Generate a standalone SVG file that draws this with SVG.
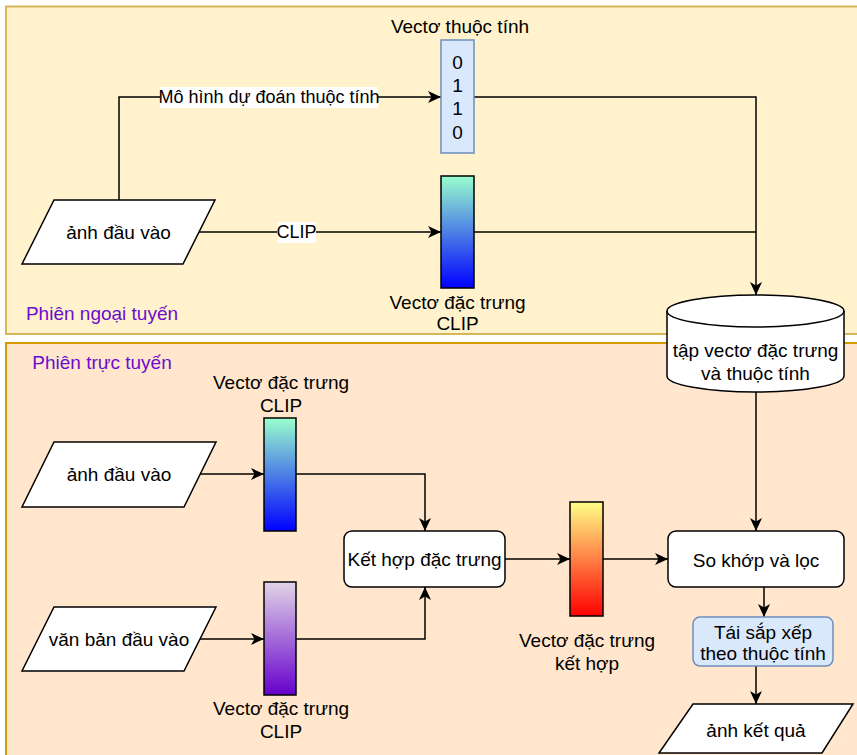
<svg xmlns="http://www.w3.org/2000/svg" width="857" height="755" viewBox="0 0 857 755">
<defs>
<linearGradient id="gBlue" x1="0" y1="0" x2="0" y2="1"><stop offset="0" stop-color="#99ffcc"/><stop offset="1" stop-color="#0000ff"/></linearGradient>
<linearGradient id="gPurple" x1="0" y1="0" x2="0" y2="1"><stop offset="0" stop-color="#e1d5e7"/><stop offset="1" stop-color="#6600cc"/></linearGradient>
<linearGradient id="gRed" x1="0" y1="0" x2="0" y2="1"><stop offset="0" stop-color="#ffff88"/><stop offset="1" stop-color="#ff0000"/></linearGradient>
<marker id="arr" markerUnits="userSpaceOnUse" markerWidth="14" markerHeight="12" refX="13" refY="6" orient="auto" overflow="visible">
<path d="M0,0 L13,6 L0,12 L3.5,6 Z" fill="#000"/>
</marker>
<style>
text{font-family:"Liberation Sans",Arial,Helvetica,sans-serif;font-size:19px;fill:#000;text-anchor:middle;dominant-baseline:central}
.lbl{font-size:18px}
.ph{fill:#6a0dd0}
.shape{fill:#fff;stroke:#000;stroke-width:1.5}
.vec{stroke:#000;stroke-width:1.5}
.blue{fill:#dae8fc;stroke:#6c8ebf;stroke-width:1.5}
.edge{fill:none;stroke:#000;stroke-width:1.5}
.arrow{marker-end:url(#arr)}
</style>
</defs>

<g id="panel-offline">
<rect x="6" y="6.5" width="860" height="327.5" fill="#fff2cc" stroke="#d6b656" stroke-width="2"/>
<text class="ph" x="102" y="313">Phiên ngoại tuyến</text>
</g>
<g id="panel-online">
<rect x="6" y="343" width="860" height="420" fill="#ffe6cc" stroke="#d79b00" stroke-width="2"/>
<text class="ph" x="102" y="362">Phiên trực tuyến</text>
</g>

<g id="connectors">
<path class="edge arrow" d="M119,200 V97 H441"/>
<path class="edge arrow" d="M199,232 H441"/>
<path class="edge arrow" d="M474,97 H756 V295"/>
<path class="edge" d="M474,232 H756"/>
<path class="edge arrow" d="M756,392 V531"/>
<path class="edge arrow" d="M200,474 H264"/>
<path class="edge arrow" d="M296,474 H425 V531"/>
<path class="edge arrow" d="M200,639 H264"/>
<path class="edge arrow" d="M296,639 H425 V587"/>
<path class="edge arrow" d="M505,559 H570"/>
<path class="edge arrow" d="M603,559 H668"/>
<path class="edge arrow" d="M764,587 V617"/>
<path class="edge arrow" d="M756,666 V704"/>
<g id="edge-labels">
<rect x="160" y="87" width="218" height="21" fill="#fff"/>
<text class="lbl" x="269" y="97">Mô hình dự đoán thuộc tính</text>
<rect x="277" y="222" width="39" height="21" fill="#fff"/>
<text class="lbl" x="296.5" y="232">CLIP</text>
</g>
</g>

<g id="input-image-offline">
<polygon class="shape" points="54,200 215,200 183,264 22,264"/>
<text x="118.5" y="232">ảnh đầu vào</text>
</g>

<g id="attr-vector">
<text x="460" y="26">Vectơ thuộc tính</text>
<rect class="blue" x="441" y="40" width="33" height="113"/>
<text x="457.5" y="62">0</text>
<text x="457.5" y="85">1</text>
<text x="457.5" y="108">1</text>
<text x="457.5" y="132">0</text>
</g>

<g id="clip-vector-offline">
<rect class="vec" x="441" y="176" width="33" height="112" fill="url(#gBlue)"/>
<text x="457.5" y="302">Vectơ đặc trưng</text>
<text x="457.5" y="323">CLIP</text>
</g>

<g id="database">
<path class="shape" d="M667,311 A88.5,16 0 0 1 844,311 V376 A88.5,16 0 0 1 667,376 Z"/>
<path class="edge" d="M667,311 A88.5,16 0 0 0 844,311"/>
<text x="755.5" y="350">tập vectơ đặc trưng</text>
<text x="755.5" y="373">và thuộc tính</text>
</g>

<g id="input-image-online">
<polygon class="shape" points="54,442 216,442 184,507 22,507"/>
<text x="119" y="474.5">ảnh đầu vào</text>
</g>

<g id="input-text">
<polygon class="shape" points="54,607 216,607 184,671 22,671"/>
<text x="119" y="639">văn bản đầu vào</text>
</g>

<g id="clip-vector-image">
<text x="281" y="382">Vectơ đặc trưng</text>
<text x="281" y="405">CLIP</text>
<rect class="vec" x="264" y="418" width="32" height="113" fill="url(#gBlue)"/>
</g>

<g id="clip-vector-text">
<rect class="vec" x="264" y="582" width="32" height="113" fill="url(#gPurple)"/>
<text x="281" y="708">Vectơ đặc trưng</text>
<text x="281" y="731">CLIP</text>
</g>

<g id="fusion">
<rect class="shape" x="344" y="531" width="161" height="56" rx="8"/>
<text x="424.5" y="559">Kết hợp đặc trưng</text>
</g>

<g id="fused-vector">
<rect class="vec" x="570" y="502" width="33" height="114" fill="url(#gRed)"/>
<text x="587" y="640">Vectơ đặc trưng</text>
<text x="587" y="663">kết hợp</text>
</g>

<g id="match-filter">
<rect class="shape" x="668" y="531" width="176" height="56" rx="8"/>
<text x="756" y="560">So khớp và lọc</text>
</g>

<g id="rerank">
<rect class="blue" x="693" y="617" width="140" height="49" rx="7"/>
<text x="763" y="632">Tái sắp xếp</text>
<text x="763" y="653">theo thuộc tính</text>
</g>

<g id="result">
<polygon class="shape" points="693,704 853,704 822,753 659,753"/>
<text x="756" y="730">ảnh kết quả</text>
</g>
</svg>
